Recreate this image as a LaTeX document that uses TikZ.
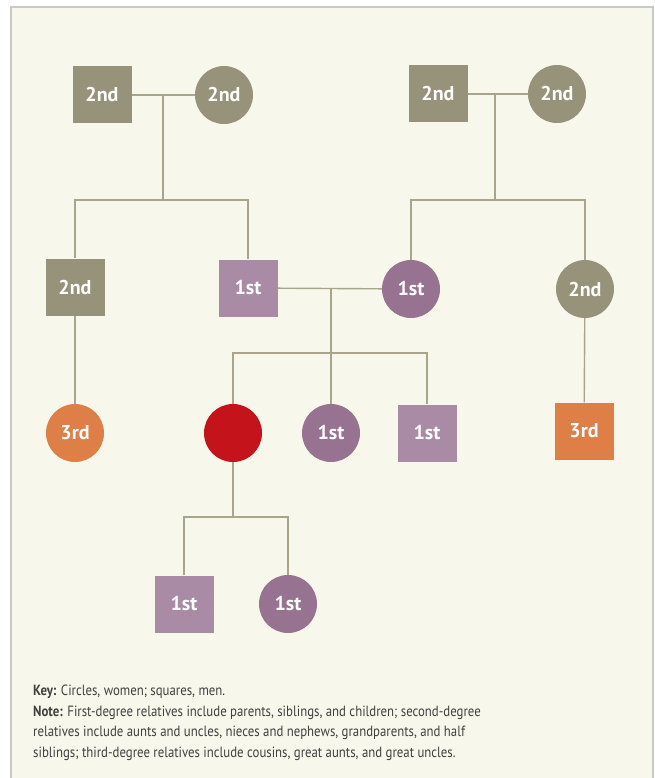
\documentclass[tikz,border=0pt]{standalone}
\usepackage{fontspec}
\setmainfont{PT Sans}
\usetikzlibrary{positioning}
\definecolor{pedpanel}{HTML}{F7F7EB}
\definecolor{pedframe}{HTML}{C9C9C4}
\definecolor{pedline}{HTML}{A8A58C}
\definecolor{pedsecond}{HTML}{97927A}
\definecolor{pedfirstm}{HTML}{A98BA6}
\definecolor{pedfirstf}{HTML}{977291}
\definecolor{pedself}{HTML}{C5131C}
\definecolor{pedthird}{HTML}{DE7F48}
\definecolor{pedtext}{HTML}{404040}

\begin{document}
\begin{tikzpicture}[x=1pt, y=-1pt,
    man/.style={rectangle, minimum width=59pt, minimum height=57pt, inner sep=0pt,
        text=white, font=\fontsize{20}{22}\selectfont\bfseries},
    woman/.style={circle, minimum size=58pt, inner sep=0pt,
        text=white, font=\fontsize{20}{22}\selectfont\bfseries},
    link/.style={draw=pedline, line width=1.4pt}]
    \useasboundingbox (0,0) rectangle (655,778);

    % Panel
    \fill[pedpanel] (11,7) rectangle (653,790);
    \draw[pedframe, line width=1.6pt] (11,790) -- (11,7) -- (653,7) -- (653,790);

    % Grandparents
    \node[man, fill=pedsecond] (gpa1) at (102,95) {2nd};
    \node[woman, fill=pedsecond] (gma1) at (224,95) {2nd};
    \node[man, fill=pedsecond] (gpa2) at (438,94) {2nd};
    \node[woman, fill=pedsecond] (gma2) at (557,94) {2nd};

    % Parents, uncle and aunt
    \node[man, fill=pedsecond] (uncle) at (75,287) {2nd};
    \node[man, fill=pedfirstm] (father) at (248,288) {1st};
    \node[woman, fill=pedfirstf] (mother) at (411,289) {1st};
    \node[woman, fill=pedsecond] (aunt) at (585,289) {2nd};

    % Siblings and cousins
    \node[woman, fill=pedthird] (cousin1) at (75,433) {3rd};
    \node[woman, fill=pedself] (self) at (233,433) {};
    \node[woman, fill=pedfirstf] (sister) at (331,433) {1st};
    \node[man, fill=pedfirstm] (brother) at (427,433) {1st};
    \node[man, fill=pedthird] (cousin2) at (584,431) {3rd};

    % Children
    \node[man, fill=pedfirstm] (son) at (184,604) {1st};
    \node[woman, fill=pedfirstf] (daughter) at (288,604) {1st};

    % Junctions
    \coordinate (j1) at (163,95);
    \coordinate (b1) at (163,200);
    \coordinate (j2) at (495,94);
    \coordinate (b2) at (495,200);
    \coordinate (j3) at (331,289);
    \coordinate (b3) at (331,353);
    \coordinate (b4) at (233,517);

    % Connectors
    \draw[link] (gpa1) -- (gma1);
    \draw[link] (j1) -- (b1);
    \draw[link] (uncle.north) |- (b1) -| (father.north);
    \draw[link] (gpa2) -- (gma2);
    \draw[link] (j2) -- (b2);
    \draw[link] (mother.north) |- (b2) -| (aunt.north);
    \draw[link] (father) -- (mother);
    \draw[link] (j3) -- (sister);
    \draw[link] (self.north) |- (b3) -| (brother.north);
    \draw[link] (uncle) -- (cousin1);
    \draw[link] (aunt) -- (cousin2);
    \draw[link] (self) -- (b4);
    \draw[link] (son.north) |- (b4) -| (daughter.north);

    % Key and note (anchored at the last baseline)
    \node[anchor=base west, inner sep=0pt, align=left, text=pedtext,
        font=\addfontfeature{FakeStretch=0.865}\fontsize{14.8}{20.5}\selectfont] (note) at (33,757) {%
        \textbf{Key:} Circles, women; squares, men.\\
        \textbf{Note:} First-degree relatives include parents, siblings, and children; second-degree\\
        relatives include aunts and uncles, nieces and nephews, grandparents, and half\\
        siblings; third-degree relatives include cousins, great aunts, and great uncles.};
\end{tikzpicture}
\end{document}
